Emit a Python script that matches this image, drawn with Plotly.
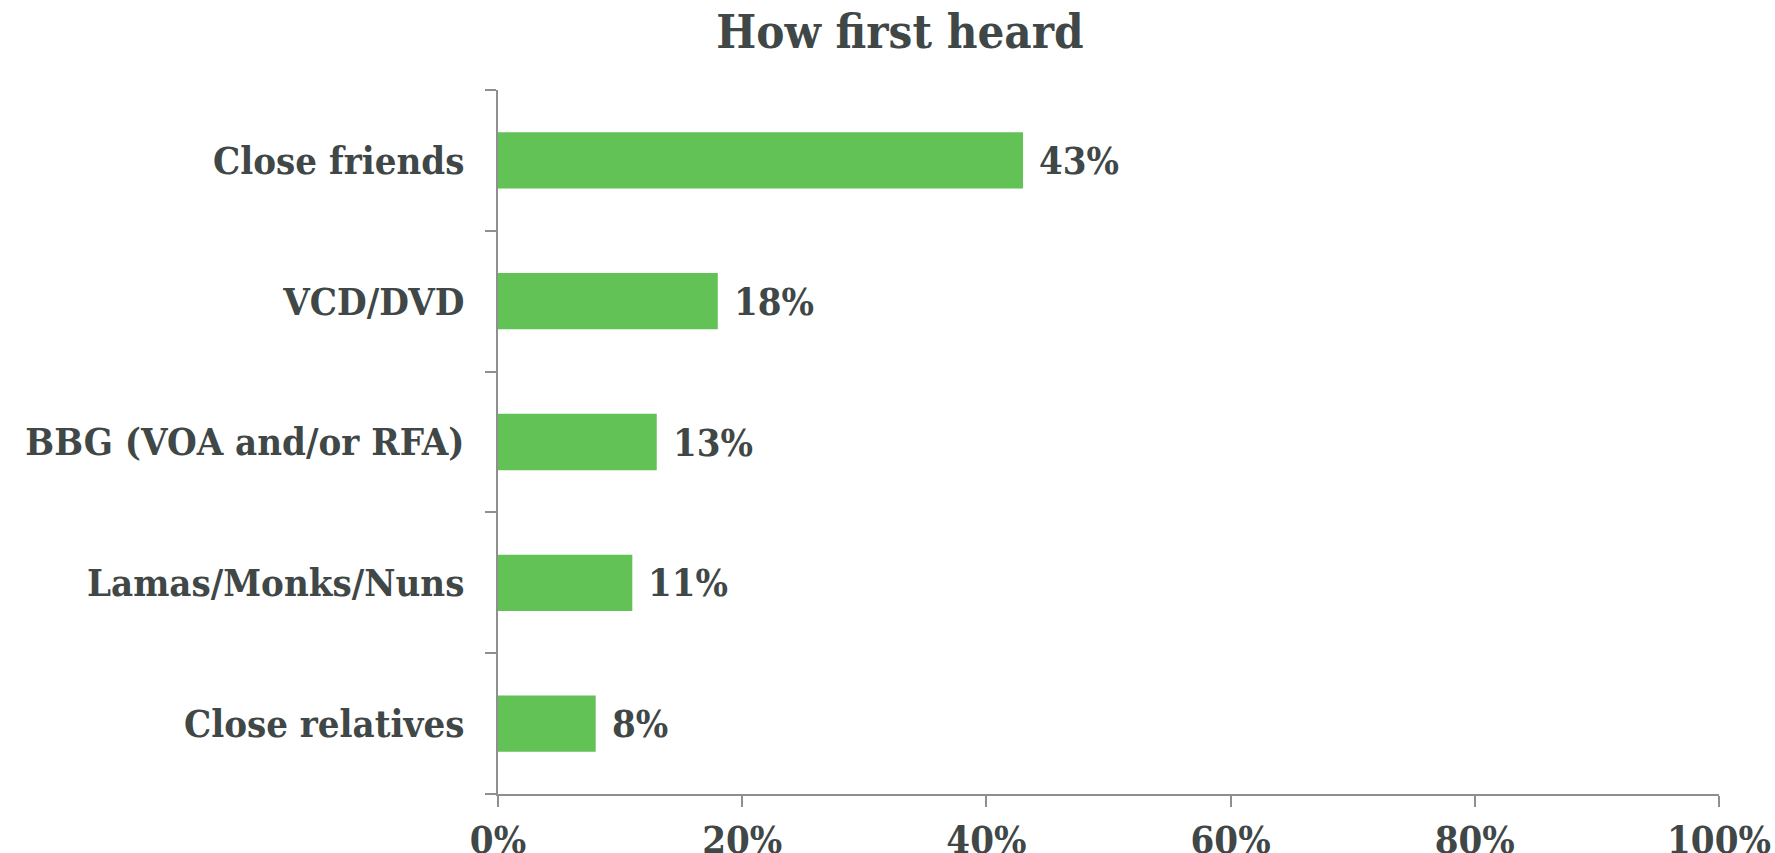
import plotly.graph_objects as go

# Survey: how respondents first heard
categories = ["Close friends", "VCD/DVD", "BBG (VOA and/or RFA)", "Lamas/Monks/Nuns", "Close relatives"]
shares = [0.43, 0.18, 0.13, 0.11, 0.08]
x_ticks = [0, 0.2, 0.4, 0.6, 0.8, 1.0]

FONT = "DejaVu Serif Condensed, DejaVu Serif, serif"
TEXT = "#3f4747"
AXIS = "#8f8f8f"
BAR = "#62c255"
LABEL_SIZE = 38

fig = go.Figure(
    go.Bar(
        x=shares,
        y=categories,
        orientation="h",
        width=0.4,
        marker=dict(color=BAR, line=dict(width=0)),
        hoverinfo="skip",
    )
)

# value labels just past the end of each bar
for cat, val in zip(categories, shares):
    fig.add_annotation(
        x=val,
        y=cat,
        text=f"{val:.0%}",
        showarrow=False,
        xanchor="left",
        yanchor="middle",
        xshift=14,
        font=dict(family=FONT, size=LABEL_SIZE, color=TEXT, weight="bold"),
    )

fig.update_layout(
    width=1775,
    height=853,
    margin=dict(l=498, r=56, t=90, b=59),
    paper_bgcolor="white",
    plot_bgcolor="white",
    showlegend=False,
    title=dict(
        text="How first heard",
        x=0.507,
        xanchor="center",
        y=1 - 32 / 853,
        yanchor="middle",
        font=dict(family=FONT, size=47, color=TEXT, weight="bold"),
    ),
    font=dict(family=FONT, color=TEXT),
)

fig.update_xaxes(
    range=[0, 1],
    tickvals=x_ticks,
    tickformat=".0%",
    automargin=False,
    showgrid=False,
    zeroline=False,
    showline=True,
    linecolor=AXIS,
    linewidth=2,
    ticks="outside",
    ticklen=11,
    tickwidth=2,
    tickcolor=AXIS,
    ticklabelstandoff=0,
    tickfont=dict(family=FONT, size=LABEL_SIZE, color=TEXT, weight="bold"),
)

fig.update_yaxes(
    categoryorder="array",
    categoryarray=categories[::-1],
    tickson="boundaries",
    automargin=False,
    showgrid=False,
    showline=True,
    linecolor=AXIS,
    linewidth=2,
    ticks="outside",
    ticklen=11,
    tickwidth=2,
    tickcolor=AXIS,
    ticklabelstandoff=24,
    tickfont=dict(family=FONT, size=LABEL_SIZE, color=TEXT, weight="bold"),
)

fig.write_html("out.html")
